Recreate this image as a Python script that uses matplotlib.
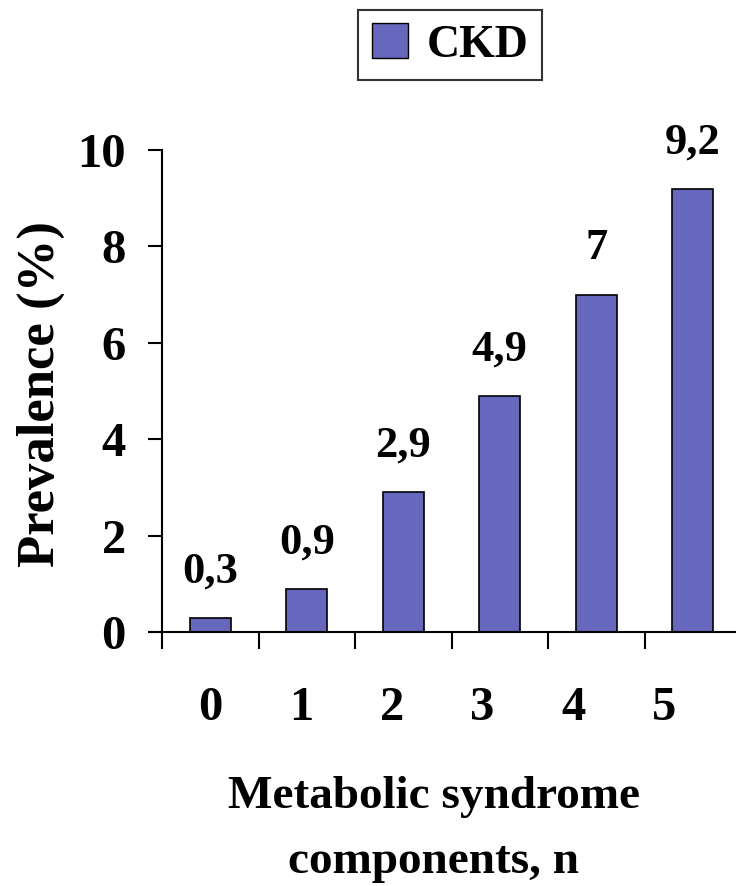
import numpy as np
import matplotlib
matplotlib.use("Agg")
import matplotlib.pyplot as plt
from matplotlib.patches import Patch

components = [0, 1, 2, 3, 4, 5]
prevalence = [0.3, 0.9, 2.9, 4.9, 7, 9.2]
value_labels = ['0,3', '0,9', '2,9', '4,9', '7', '9,2']
yticks = [0, 2, 4, 6, 8, 10]

plt.rcParams['font.family'] = ['Liberation Serif', 'DejaVu Serif']
plt.rcParams['font.weight'] = 'bold'

fig = plt.figure(figsize=(7.36, 8.86), dpi=100)
ax = fig.add_axes([162 / 736, 1 - 632 / 886, 579 / 736, 482 / 886])

x = np.arange(len(components))
bars = ax.bar(x, prevalence, width=0.42, color='#6767bd', edgecolor='black', linewidth=1.2)

for i in range(len(x)):
    ax.annotate(value_labels[i], (x[i], prevalence[i]), xytext=(0, 19), textcoords='offset points',
                ha='center', va='bottom', fontsize=32, fontweight='bold')

ax.set_xlim(-0.5, len(x) - 0.5)
ax.set_ylim(0, 10)
ax.set_yticks(yticks)
ax.set_yticklabels([str(t) for t in yticks], fontsize=35, fontweight='bold')
ax.tick_params(axis='y', direction='out', length=10, width=1.5, pad=16)

# ticks between categories, labels placed separately
ax.set_xticks(np.arange(len(x)) - 0.5)
ax.set_xticklabels([])
ax.tick_params(axis='x', direction='out', length=12, width=1.5)
for i in range(len(x)):
    ax.text(components[i] * 0.94, -0.112, str(components[i]), transform=ax.get_xaxis_transform(),
            ha='center', va='top', fontsize=35, fontweight='bold')

ax.spines['top'].set_visible(False)
ax.spines['right'].set_visible(False)
ax.spines['left'].set_linewidth(1.5)
ax.spines['bottom'].set_linewidth(1.5)
ax.spines['bottom'].set_bounds(-0.62, len(x) - 0.5)

ax.set_ylabel('Prevalence (%)', fontsize=38, fontweight='bold')
ax.yaxis.set_label_coords(-0.168, 0.494)

fig.text(434 / 736, 1 - 808 / 886, 'Metabolic syndrome', ha='center', va='baseline',
         fontsize=34, fontweight='bold')
fig.text(434 / 736, 1 - 873 / 886, 'components, n', ha='center', va='baseline',
         fontsize=34, fontweight='bold')

leg = fig.legend(handles=[Patch(facecolor='#6767bd', edgecolor='black', label='CKD')],
                 loc='center', bbox_to_anchor=(450 / 736, 1 - 45 / 886),
                 prop={'size': 33, 'weight': 'bold'}, fancybox=False, frameon=True,
                 handlelength=0.8, handleheight=0.8, handletextpad=0.4, borderpad=0.3)
leg.get_frame().set_edgecolor('black')
leg.get_frame().set_linewidth(1.5)

fig.savefig('out.png', dpi=100)
